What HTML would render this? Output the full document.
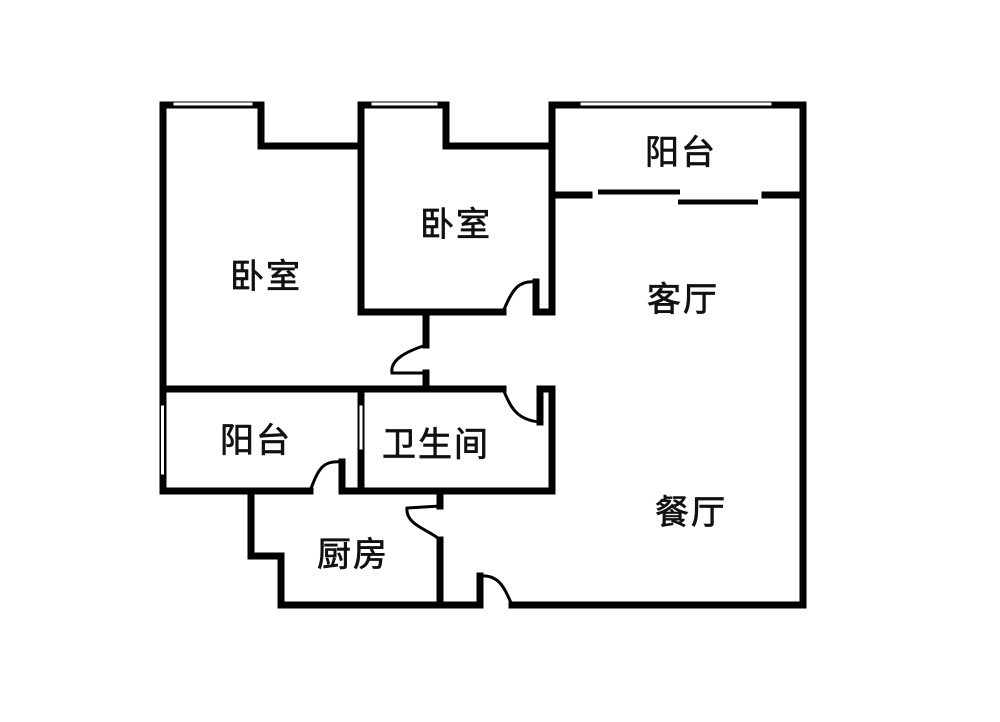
<!DOCTYPE html>
<html><head><meta charset="utf-8"><style>
html,body{margin:0;padding:0;background:#fff;}
svg{display:block}
text{font-family:"Liberation Sans","Noto Sans CJK SC",sans-serif;font-size:34px;fill:#111;stroke:#111;stroke-width:0.7;text-anchor:middle;dominant-baseline:central;letter-spacing:2px}
</style></head><body>
<svg width="1000" height="722" viewBox="0 0 1000 722" xmlns="http://www.w3.org/2000/svg">
<rect width="1000" height="722" fill="#fff"/>
<g fill="none" stroke="#000" stroke-width="7" stroke-linecap="square" stroke-linejoin="miter">
<polyline points="163,105 163,491"/>
<polyline points="163,105 261,105 261,146 361,146"/>
<polyline points="361,105 361,312 503,312"/>
<polyline points="361,105 446,105 446,146 552,146"/>
<polyline points="536,282 536,312 552,312"/>
<polyline points="552,105 552,195"/>
<polyline points="552,195 552,312"/>
<polyline points="552,105 803,105 803,605"/>
<line x1="556" y1="195" x2="589" y2="195"/>
<line x1="765" y1="195" x2="803" y2="195"/>
<polyline points="426,315 426,345"/>
<polyline points="426,373 426,389"/>
<polyline points="163,389 503,389"/>
<polyline points="540,422 540,389 552,389 552,491"/>
<polyline points="163,491 310,491"/>
<polyline points="342,462 342,491 552,491"/>
<line x1="361" y1="389" x2="361" y2="491"/>
<polyline points="251,491 251,556 281,556 281,605 480,605"/>
<polyline points="440,494 440,506"/>
<polyline points="440,540 440,605"/>
<polyline points="480,605 480,576"/>
<polyline points="512,605 803,605"/>
</g>
<g fill="none" stroke="#000" stroke-width="5">
<line x1="598" y1="192" x2="680" y2="192"/>
<line x1="678" y1="202" x2="758" y2="202"/>
</g>
<g fill="none" stroke="#000" stroke-width="3">
<path d="M503,312 C512,290 518,280 536,282"/>
<path d="M426,345 C405,352 390,360 392,373 L426,373"/>
<path d="M503,389 C510,405 515,420 540,422"/>
<path d="M310,491 C318,470 322,460 342,462"/>
<path d="M440,506 L407,508 C405,525 430,530 440,540"/>
<path d="M480,576 C500,574 505,590 512,605"/>
</g>
<g fill="#fff" stroke="#000" stroke-width="1">
<rect x="173" y="102" width="80" height="4"/>
<rect x="371" y="102" width="67" height="4"/>
<rect x="580" y="102" width="192" height="4"/>
<rect x="160.5" y="405" width="4" height="70"/>
<rect x="359" y="405" width="4" height="45"/>
</g>
<text x="266" y="277">卧室</text>
<text x="456" y="225">卧室</text>
<text x="681" y="153">阳台</text>
<text x="683" y="300">客厅</text>
<text x="256" y="441">阳台</text>
<text x="436" y="445">卫生间</text>
<text x="691" y="513">餐厅</text>
<text x="353" y="555">厨房</text>
</svg>
</body></html>
